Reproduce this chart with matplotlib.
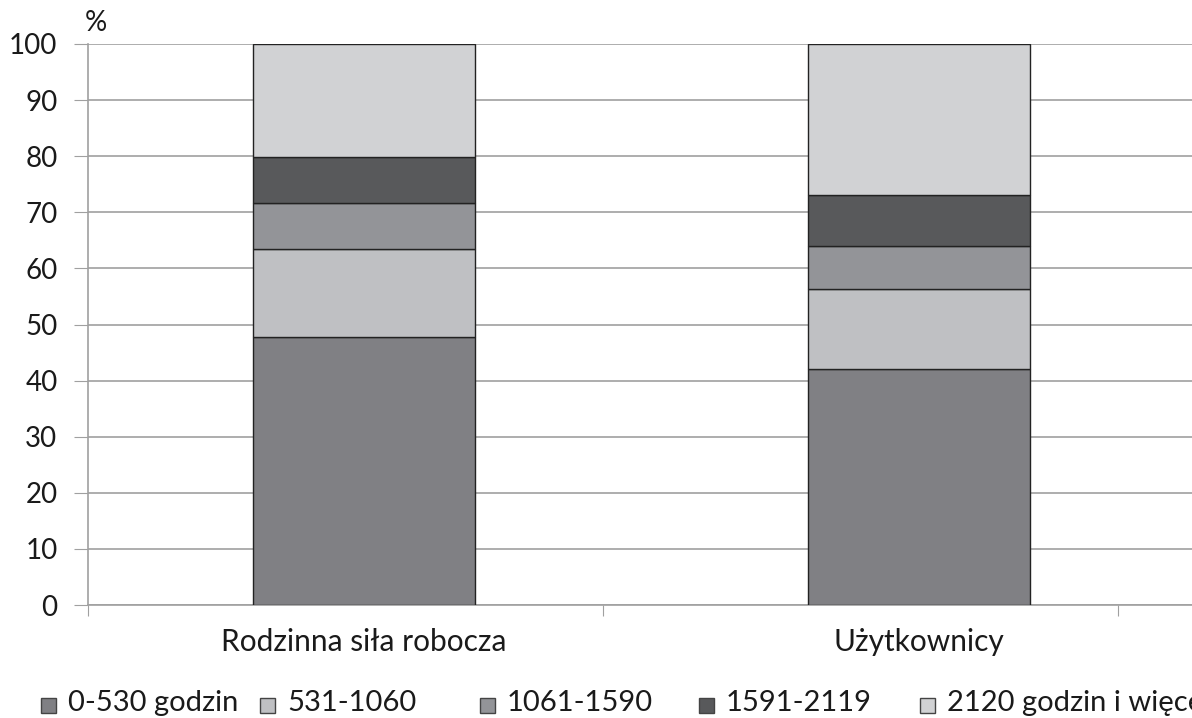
import matplotlib
matplotlib.use('Agg')
import matplotlib.pyplot as plt
from matplotlib.patches import Rectangle

plt.rcParams['font.family'] = ['Lato', 'DejaVu Sans']

# dane
kategorie = ['Rodzinna siła robocza', 'Użytkownicy']
przedzialy = ['0-530 godzin', '531-1060', '1061-1590', '1591-2119', '2120 godzin i więcej']
wartosci = {
    '0-530 godzin': [47.7, 42.0],
    '531-1060': [15.8, 14.3],
    '1061-1590': [8.1, 7.7],
    '1591-2119': [8.3, 9.1],
    '2120 godzin i więcej': [20.1, 26.9],
}
kolory = ['#808084', '#bfc0c3', '#939498', '#58595b', '#d1d2d4']

W, H = 1192, 718
fig = plt.figure(figsize=(W / 100, H / 100), dpi=100)
ax = fig.add_axes([88 / W, (H - 605) / H, (W - 88) / W, (605 - 44) / H])

poz_slupkow = [0.536, 1.614]

dol = [0, 0]
for nazwa, kolor in zip(przedzialy, kolory):
    v = wartosci[nazwa]
    ax.bar(poz_slupkow, v, width=0.431, bottom=dol, color=kolor,
           edgecolor='#222222', linewidth=1.0, zorder=3)
    dol = [a + b for a, b in zip(dol, v)]

ax.set_ylim(0, 100)
ax.set_xlim(0, (W - 88) / 515)
ax.set_yticks(range(0, 101, 10))
ax.yaxis.grid(True, color='#a0a0a0', linewidth=1.2, zorder=0)
ax.tick_params(axis='y', length=10, color='#a0a0a0', labelsize=20, pad=12,
               labelcolor='#1a1a1a')
ax.set_xticks([0, 1, 2])
ax.set_xticklabels([])
ax.tick_params(axis='x', length=8, color='#a0a0a0', direction='out')
for s in ['top', 'right']:
    ax.spines[s].set_visible(False)
ax.spines['left'].set_color('#a0a0a0')
ax.spines['bottom'].set_color('#a0a0a0')
ax.spines['left'].set_linewidth(1.2)
ax.spines['bottom'].set_linewidth(1.2)

for x, k in zip(poz_slupkow, kategorie):
    ax.text(x, -6.6, k, ha='center', va='center', fontsize=21.5, color='#1a1a1a')

fig.text(96 / W, 1 - 23 / H, '%', ha='center', va='center', fontsize=20, color='#1a1a1a')

# legenda
leg_x = [41, 260, 480, 699, 920]
for x, nazwa, kolor in zip(leg_x, przedzialy, kolory):
    fig.patches.append(Rectangle((x / W, 1 - 713 / H), 15 / W, 15 / H,
                                 transform=fig.transFigure, facecolor=kolor,
                                 edgecolor='#444444', linewidth=1))
    fig.text((x + 27) / W, 1 - 703 / H, nazwa, ha='left', va='center',
             fontsize=21, color='#1a1a1a')

fig.savefig('out.png', dpi=100)
